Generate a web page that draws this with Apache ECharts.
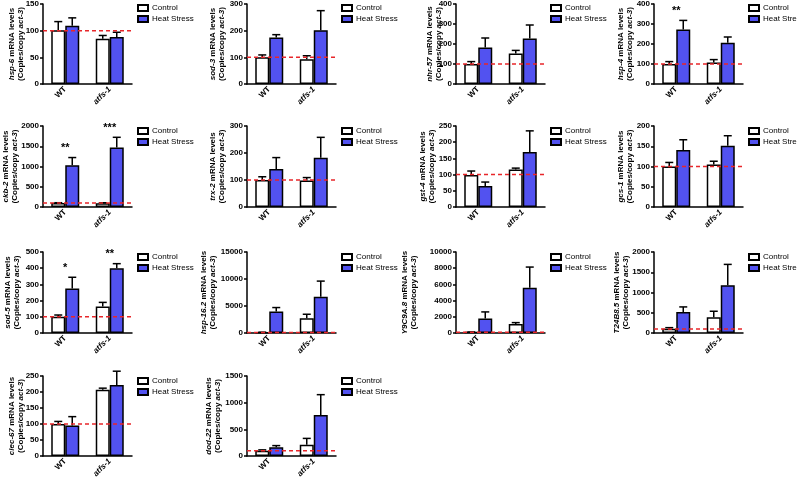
<!DOCTYPE html>
<html>
<head>
<meta charset="utf-8">
<script src="https://cdn.jsdelivr.net/npm/echarts@6/dist/echarts.min.js"></script>
<style>html,body{margin:0;padding:0;background:#fff}#c{width:797px;height:484px}</style>
</head>
<body>
<div id="c"></div>
<script>
// ---- data ----
const categories = ['WT', 'atfs-1'];
const genes = ['hsp-6','sod-3','nhr-57','hsp-4','ckb-2','trx-2','gst-4','gcs-1','sod-5','hsp-16.2','Y9C9A.8','T24B8.5','clec-67','dod-22'];
const yMax  = [150, 300, 400, 400, 2000, 300, 250, 200, 500, 15000, 10000, 2000, 250, 1500];
const yStep = [50, 100, 100, 100, 500, 100, 50, 50, 100, 5000, 2000, 500, 50, 500];
const controlMean = [[101,85],[100,93],[100,153],[100,107],[98,95],[100,98],[99,116],[100,105],[101,163],[100,2728],[100,1116],[107,388],[100,207],[100,210]];
const controlErr  = [[16,6],[9,13],[12,15],[12,15],[8,10],[12,11],[12,4],[10,8],[10,26],[60,744],[30,165],[25,149],[8,5],[15,120]];
const heatMean    = [[109,88],[174,202],[183,227],[273,206],[1033,1467],[141,182],[65,170],[141,151],[274,399],[3968,6696],[1777,5579],[520,1182],[95,222],[165,770]];
const heatErr     = [[15,9],[11,73],[47,68],[45,29],[188,254],[42,76],[12,65],[25,25],[70,29],[744,2914],[826,2561],[124,512],[28,43],[30,380]];
const stars       = [['',''],['',''],['',''],['**',''],['**','***'],['',''],['',''],['',''],['*','**'],['',''],['',''],['',''],['',''],['','']];
const refLevel = 100;

// ---- layout ----
const colLeft = [43, 247, 456, 654];
const rowTop = [3, 126, 252, 376];
const nameGaps = [18, 21, 13, 20, 24, 21, 20, 20, 22, 30, 38, 24, 18, 25];
const gridW = 89, gridH = 81;
const BW = 14;
const FONT = 'Liberation Sans, Arial, sans-serif';
const BLUE = '#5252f0';

const grid = [], xAxis = [], yAxis = [], series = [], legend = [];

genes.forEach((g, i) => {
  const col = i % 4, row = Math.floor(i / 4);
  grid.push({left: colLeft[col], top: rowTop[row], width: gridW, height: row === 3 ? 80 : gridH});
  xAxis.push({
    type: 'category', gridIndex: i, data: categories,
    axisLine: {lineStyle: {color: '#000', width: 1.5}},
    axisTick: {alignWithLabel: true, length: 3, lineStyle: {color: '#000', width: 1.5}},
    axisLabel: {rotate: 45, margin: 4, color: '#000', fontFamily: FONT, fontSize: 8, fontWeight: 'bold',
      formatter: v => v === 'WT' ? v : '{i|' + v + '}',
      rich: {i: {fontStyle: 'italic', fontWeight: 'bold', fontSize: 8, fontFamily: FONT, color: '#000'}}}
  });
  yAxis.push({
    type: 'value', gridIndex: i, min: 0, max: yMax[i], interval: yStep[i],
    splitLine: {show: false},
    axisLine: {show: true, lineStyle: {color: '#000', width: 1.5}},
    axisTick: {show: true, length: 3, lineStyle: {color: '#000', width: 1.5}},
    axisLabel: {margin: 4, color: '#000', fontFamily: FONT, fontSize: 8, fontWeight: 'bold', formatter: v => String(v)},
    name: '{i|' + g + '} mRNA levels\n(Copies/copy {i|act-3})',
    nameLocation: 'middle', nameRotate: 90, nameGap: nameGaps[i], nameMoveOverlap: false,
    nameTextStyle: {color: '#000', fontFamily: FONT, fontSize: 8, fontWeight: 'bold', lineHeight: 8.5,
      rich: {i: {fontStyle: 'italic', fontWeight: 'bold', fontSize: 8, fontFamily: FONT, color: '#000', lineHeight: 8.5}}}
  });
  legend.push({
    data: ['Control', 'Heat Stress'], orient: 'vertical', selectedMode: false,
    left: colLeft[col] + 94, top: rowTop[row] + 1, padding: 0,
    itemWidth: 10, itemHeight: 6, itemGap: 3, icon: 'rect',
    textStyle: {color: '#000', fontFamily: FONT, fontSize: 8, padding: [0, 0, 0, -1]}
  });
  series.push({
    type: 'bar', name: 'Control', xAxisIndex: i, yAxisIndex: i, data: controlMean[i],
    barWidth: BW, barGap: '0%', z: 2,
    itemStyle: {color: '#fff', borderColor: '#000', borderWidth: 1.5}
  });
  series.push({
    type: 'bar', name: 'Heat Stress', xAxisIndex: i, yAxisIndex: i, data: heatMean[i],
    barWidth: BW, barGap: '0%', z: 2,
    itemStyle: {color: BLUE, borderColor: '#000', borderWidth: 1.5}
  });
  const errSeries = (means, errs, off, sig) => ({
    type: 'custom', xAxisIndex: i, yAxisIndex: i, z: 3, silent: true,
    data: means.map((m, k) => [k, m, errs[k]]),
    renderItem: (params, api) => {
      const k = api.value(0);
      const base = api.coord([k, api.value(1)]);
      const top = api.coord([k, api.value(1) + api.value(2)]);
      const x = base[0] + off;
      const children = [
        {type: 'line', shape: {x1: x, y1: base[1], x2: x, y2: top[1]}, style: {stroke: '#000', lineWidth: 1.5}},
        {type: 'line', shape: {x1: x - 4, y1: top[1], x2: x + 4, y2: top[1]}, style: {stroke: '#000', lineWidth: 1.5}}
      ];
      if (sig && sig[k]) {
        children.push({type: 'text', style: {text: sig[k], x: base[0], y: top[1] - 4, align: 'center', verticalAlign: 'bottom',
          font: 'bold 11px ' + FONT, fill: '#000'}});
      }
      return {type: 'group', children};
    }
  });
  series.push(errSeries(controlMean[i], controlErr[i], -BW / 2, null));
  series.push(errSeries(heatMean[i], heatErr[i], BW / 2, stars[i]));
  series.push({
    type: 'custom', xAxisIndex: i, yAxisIndex: i, z: 5, silent: true,
    data: [[0, refLevel]],
    renderItem: (params, api) => {
      const p = api.coord([0, api.value(1)]);
      const cs = params.coordSys;
      return {type: 'line', shape: {x1: cs.x, y1: p[1], x2: cs.x + cs.width, y2: p[1]},
        style: {stroke: '#e8262a', lineWidth: 1.5, lineDash: [4, 3]}};
    }
  });
});

const chart = echarts.init(document.getElementById('c'), null, {renderer: 'canvas'});
chart.setOption({animation: false, backgroundColor: '#fff', grid, xAxis, yAxis, legend, series});
</script>
</body>
</html>
